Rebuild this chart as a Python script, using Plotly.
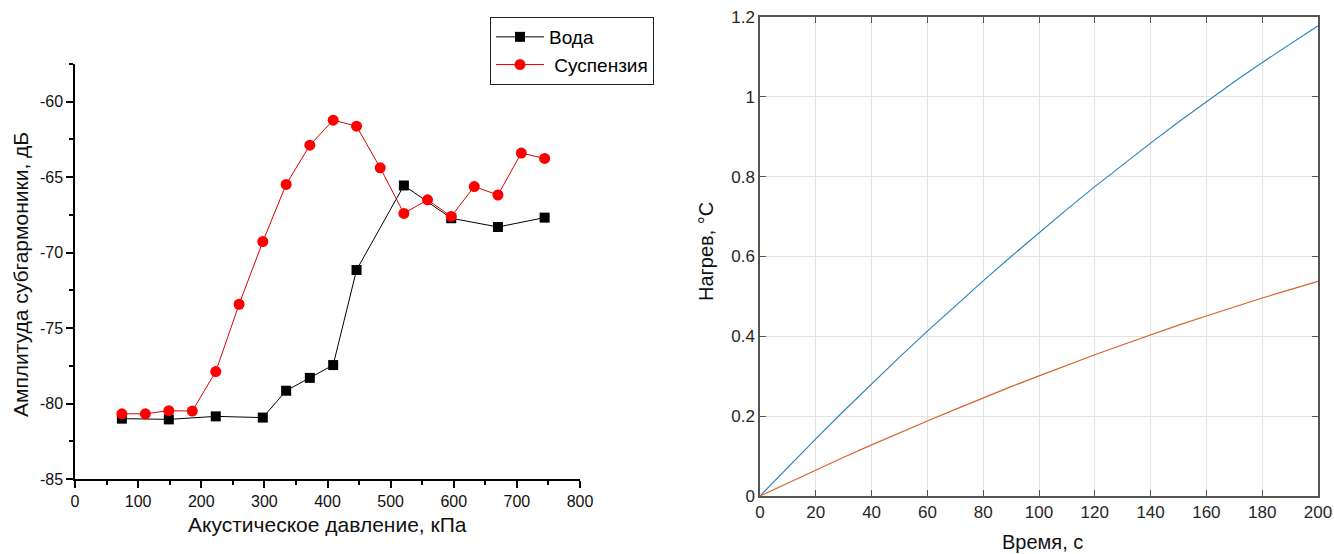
import plotly.graph_objects as go

# Left panel: subharmonic amplitude vs acoustic pressure
water_pressure = [74.3, 148.6, 223.0, 297.5, 334.5, 372.0, 409.0, 446.0, 521.0, 596.0, 670.0, 744.0]
water_amp = [-81.0, -81.05, -80.85, -80.93, -79.15, -78.3, -77.45, -71.15, -65.55, -67.72, -68.3, -67.68]

susp_pressure = [74.3, 111.5, 148.6, 185.8, 223.0, 260.0, 297.5, 334.5, 372.0, 409.0, 446.0,
                 483.5, 521.0, 558.5, 596.0, 632.5, 670.0, 707.0, 744.0]
susp_amp = [-80.68, -80.68, -80.47, -80.5, -77.88, -73.42, -69.27, -65.48, -62.88, -61.22, -61.62,
            -64.38, -67.4, -66.5, -67.6, -65.62, -66.18, -63.4, -63.76]

amp_ticks = [-85, -80, -75, -70, -65, -60]
amp_tick_text = ["-85", "-80", "-75", "-70", "-65", "-60"]

# Right panel: heating vs time
time_s = [0, 10, 20, 30, 40, 50, 60, 70, 80, 90, 100, 110, 120, 130, 140, 150, 160, 170, 180, 190, 200]
heat_blue = [0, 0.072, 0.143, 0.213, 0.281, 0.348, 0.413, 0.477, 0.539, 0.600, 0.660,
             0.718, 0.775, 0.830, 0.884, 0.937, 0.988, 1.038, 1.086, 1.133, 1.178]
heat_orange = [0, 0.033, 0.065, 0.097, 0.128, 0.159, 0.188, 0.217, 0.246, 0.274, 0.301,
               0.328, 0.354, 0.379, 0.404, 0.428, 0.451, 0.474, 0.496, 0.517, 0.538]

W, H = 1334, 554
FONT = "Liberation Sans, Arial, sans-serif"


def px_x(p):
    return p / W


def px_y(p):
    return 1 - p / H


fig = go.Figure()

fig.add_trace(go.Scatter(
    x=water_pressure, y=water_amp, name="Вода", mode="lines+markers",
    line=dict(color="black", width=1),
    marker=dict(symbol="square", size=10, color="black"),
    xaxis="x", yaxis="y"))
fig.add_trace(go.Scatter(
    x=susp_pressure, y=susp_amp, name=" Суспензия", mode="lines+markers",
    line=dict(color="#e00000", width=1),
    marker=dict(symbol="circle", size=11, color="#ff0000"),
    xaxis="x", yaxis="y"))

fig.add_trace(go.Scatter(
    x=time_s, y=heat_blue, mode="lines", showlegend=False,
    line=dict(color="#2f86c0", width=1.2), xaxis="x2", yaxis="y2"))
fig.add_trace(go.Scatter(
    x=time_s, y=heat_orange, mode="lines", showlegend=False,
    line=dict(color="#d6642e", width=1.2), xaxis="x2", yaxis="y2"))

title_font_left = dict(size=21, family=FONT, color="#111111")
title_font_right = dict(size=20, family=FONT, color="#111111")

annotations = [
    dict(text="Акустическое давление, кПа", x=px_x(327), y=px_y(524), xref="paper", yref="paper",
         xanchor="center", yanchor="middle", showarrow=False, font=title_font_left),
    dict(text="Амплитуда субгармоники, дБ", x=px_x(20), y=px_y(275), xref="paper", yref="paper",
         xanchor="center", yanchor="middle", showarrow=False, textangle=-90, font=title_font_left),
    dict(text="Время, с", x=px_x(1042), y=px_y(542), xref="paper", yref="paper",
         xanchor="center", yanchor="middle", showarrow=False, font=title_font_right),
    dict(text="Нагрев, °C", x=px_x(706), y=px_y(252), xref="paper", yref="paper",
         xanchor="center", yanchor="middle", showarrow=False, textangle=-90, font=title_font_right),
]

fig.update_layout(
    width=W, height=H,
    margin=dict(l=0, r=0, t=0, b=0),
    paper_bgcolor="white", plot_bgcolor="white",
    font=dict(family=FONT, color="#111111"),
    showlegend=True,
    annotations=annotations,
    legend=dict(x=px_x(490), y=px_y(17), xanchor="left", yanchor="top",
                bordercolor="#222222", borderwidth=1, bgcolor="white",
                font=dict(size=19, family=FONT, color="black"),
                tracegroupgap=0, itemwidth=48),
    xaxis=dict(
        domain=[px_x(75), px_x(580)], anchor="y", range=[0, 800], dtick=100, tick0=0,
        automargin=False, ticklabeloverflow="allow",
        showline=True, linecolor="black", linewidth=1.5, showgrid=False, zeroline=False,
        ticks="outside", ticklen=7, tickwidth=1.5, tickcolor="black",
        minor=dict(dtick=50, ticks="outside", ticklen=4, tickcolor="black", tickwidth=1.5, showgrid=False),
        tickfont=dict(size=16, family=FONT, color="#111111")),
    yaxis=dict(
        domain=[px_y(479), px_y(64)], anchor="x", range=[-85, -57.5],
        tickmode="array", tickvals=amp_ticks, ticktext=amp_tick_text,
        automargin=False, ticklabeloverflow="allow",
        showline=True, linecolor="black", linewidth=1.5, showgrid=False, zeroline=False,
        ticks="outside", ticklen=7, tickwidth=1.5, tickcolor="black",
        minor=dict(dtick=2.5, tick0=-85, ticks="outside", ticklen=4, tickcolor="black", tickwidth=1.5,
                   showgrid=False),
        tickfont=dict(size=16, family=FONT, color="#111111")),
    xaxis2=dict(
        domain=[px_x(760), px_x(1318)], anchor="y2", range=[0, 200], dtick=20, tick0=0,
        automargin=False, ticklabeloverflow="allow",
        showline=True, mirror="ticks", linecolor="#555555", linewidth=1.5,
        showgrid=True, gridcolor="#e3e3e3", gridwidth=1, zeroline=False,
        ticks="inside", ticklen=6, tickcolor="#555555", tickwidth=1,
        tickfont=dict(size=17, family=FONT, color="#262626")),
    yaxis2=dict(
        domain=[px_y(496), px_y(17)], anchor="x2", range=[0, 1.2], dtick=0.2, tick0=0,
        automargin=False, ticklabeloverflow="allow",
        showline=True, mirror="ticks", linecolor="#555555", linewidth=1.5,
        showgrid=True, gridcolor="#e3e3e3", gridwidth=1, zeroline=False,
        ticks="inside", ticklen=6, tickcolor="#555555", tickwidth=1,
        tickformat="~g",
        tickfont=dict(size=17, family=FONT, color="#262626")),
)

fig.write_html("out.html")
